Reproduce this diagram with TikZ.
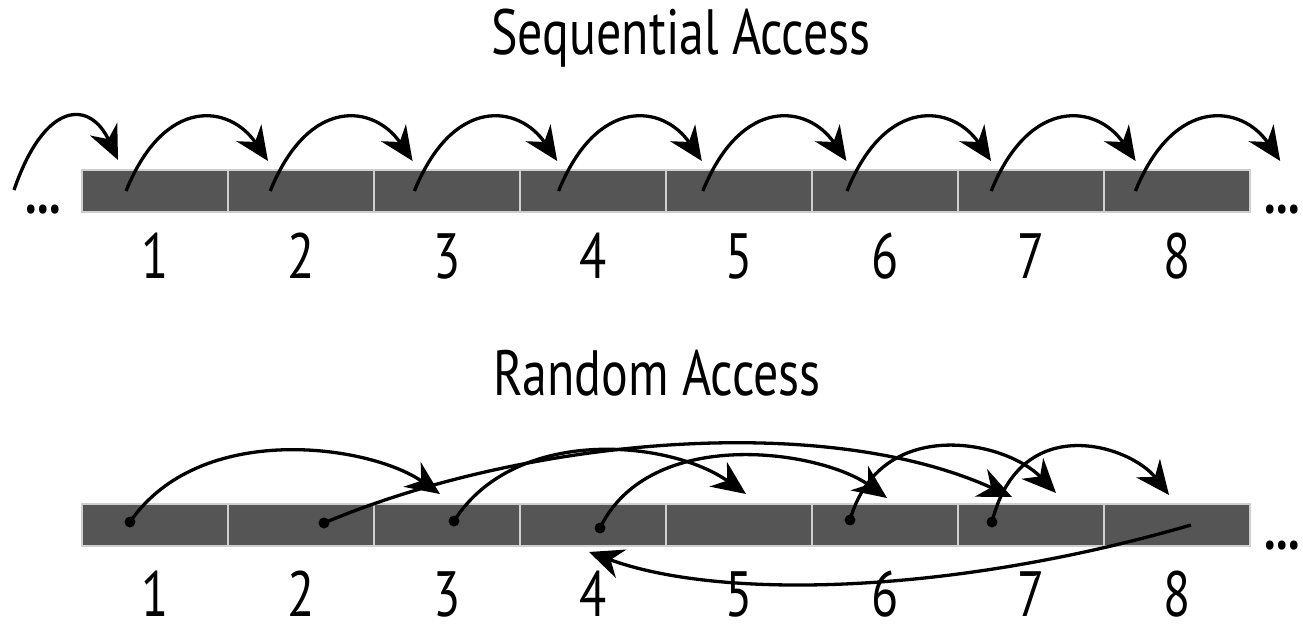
\documentclass[tikz,border=0pt]{standalone}
\usepackage{fontspec}
\setmainfont{PT Sans}[FakeStretch=0.78]
\usetikzlibrary{arrows.meta}
\definecolor{barfill}{HTML}{555555}
\definecolor{barline}{HTML}{CFCFCF}
\begin{document}
\begin{tikzpicture}[x=1pt,y=-1pt,
  cell/.style={rectangle, fill=barfill, draw=barline, line width=1.5pt,
    minimum width=146pt, minimum height=42pt, inner sep=0pt, outer sep=0pt},
  numlabel/.style={font=\fontsize{64}{64}\selectfont, inner sep=0pt},
  heading/.style={font=\fontsize{64}{64}\selectfont, inner sep=0pt, anchor=base},
  dotstext/.style={font=\fontsize{60}{60}\selectfont\bfseries, inner sep=0pt, anchor=base},
  jump/.style={line width=3.3pt, -{Stealth[length=34pt,width=30pt,inset=11pt]}},
  startdot/.style={circle, fill=black, minimum size=11pt, inner sep=0pt},
]
\useasboundingbox (0,0) rectangle (1303,639);
% titles
\node[heading] (seqtitle) at (681,55) {Sequential Access};
\node[heading] (randtitle) at (657,395) {Random Access};
% bars
\foreach \k in {1,...,8} {
  \node[cell] (s\k) at ({155+146*(\k-1)},191) {};
  \node[cell] (r\k) at ({155+146*(\k-1)},525) {};
  \node[numlabel] (sn\k) at ({155+146*(\k-1)},256) {\k};
  \node[numlabel] (rn\k) at ({155+146*(\k-1)},594) {\k};
}
% ellipses
\node[dotstext] (sdl) at (43,214) {...};
\node[dotstext] (sdr) at (1282,214) {...};
\node[dotstext] (rdr) at (1282,549) {...};
% sequential arcs
\coordinate (sfrom) at (14,190);
\coordinate (sto) at (118,160);
\draw[jump] (sfrom) .. controls (45,100) and (90,100) .. (sto);
\foreach \k in {0,...,7} {
  \coordinate (ss\k) at ({126+144.2*\k},191);
  \coordinate (st\k) at ({268+144.6*\k},161);
  \draw[jump] (ss\k) .. controls +(39,-96) and +(-38,-56) .. (st\k);
}
% random access
\coordinate (d1) at (130,522);
\coordinate (d2) at (324,523);
\coordinate (d3) at (454,521);
\coordinate (d4) at (600,528);
\coordinate (d6) at (850,520);
\coordinate (d7) at (992,522);
\coordinate (e8) at (1191,525);
\coordinate (tA) at (440,494);
\coordinate (tB) at (746,494);
\coordinate (tC) at (887,498);
\coordinate (tD) at (1012,497);
\coordinate (tE) at (1056,493);
\coordinate (tF) at (1169,495);
\coordinate (tG) at (589,552);
\draw[jump] (d1) .. controls (200,420) and (370,445) .. (tA);
\draw[jump] (d2) .. controls (520,440) and (820,410) .. (tD);
\draw[jump] (d3) .. controls (515,425) and (670,440) .. (tB);
\draw[jump] (d4) .. controls (650,425) and (820,450) .. (tC);
\draw[jump] (d6) .. controls (880,415) and (1005,440) .. (tE);
\draw[jump] (d7) .. controls (1020,410) and (1130,445) .. (tF);
\draw[jump] (e8) .. controls (950,595) and (720,600) .. (tG);
\foreach \d in {d1,d2,d3,d4,d6,d7} {
  \node[startdot] at (\d) {};
}
\end{tikzpicture}
\end{document}
